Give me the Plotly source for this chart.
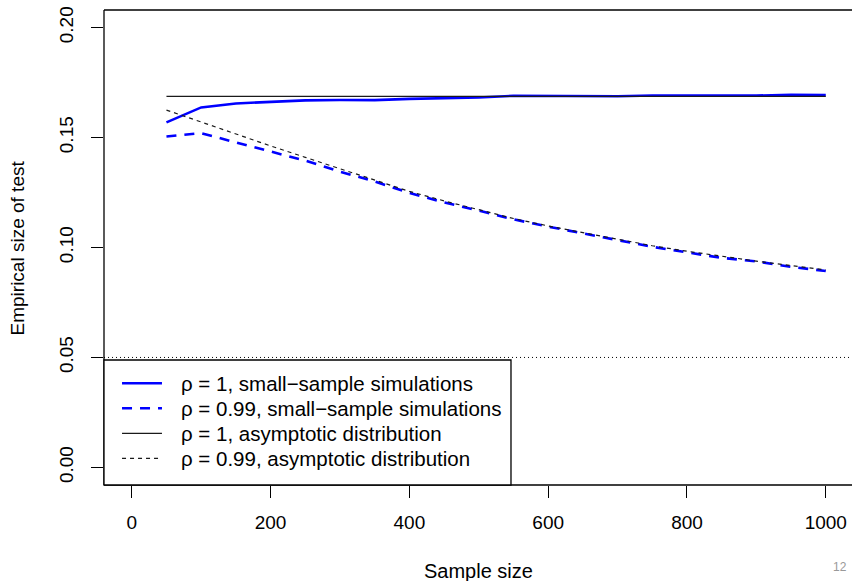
import plotly.graph_objects as go

sample_size = [50, 100, 150, 200, 250, 300, 350, 400, 450, 500,
               550, 600, 650, 700, 750, 800, 850, 900, 950, 1000]
sim_rho1 = [0.1569, 0.1637, 0.1655, 0.1663, 0.1669, 0.1671, 0.1670, 0.1676, 0.1680, 0.1682,
            0.1690, 0.1689, 0.1689, 0.1688, 0.1691, 0.1690, 0.1689, 0.1691, 0.1694, 0.1693]
sim_rho099 = [0.1505, 0.1520, 0.1478, 0.1438, 0.1395, 0.1345, 0.1300, 0.1248, 0.1205, 0.1168,
              0.1128, 0.1095, 0.1065, 0.1033, 0.1003, 0.0978, 0.0953, 0.0937, 0.0912, 0.0893]
asy_rho1 = [0.1687] * 20
asy_rho099 = [0.1625, 0.1570, 0.1515, 0.1462, 0.1410, 0.1358, 0.1305, 0.1255, 0.1212, 0.1172,
              0.1132, 0.1098, 0.1067, 0.1037, 0.1008, 0.0983, 0.0960, 0.0938, 0.0918, 0.0898]
nominal_level = 0.05

x_ticks = [0, 200, 400, 600, 800, 1000]
y_ticks = [0.00, 0.05, 0.10, 0.15, 0.20]
y_tick_labels = ["0.00", "0.05", "0.10", "0.15", "0.20"]

legend_labels = ["ρ = 1, small−sample simulations",
                 "ρ = 0.99, small−sample simulations",
                 "ρ = 1, asymptotic distribution",
                 "ρ = 0.99, asymptotic distribution"]

FONT = "Liberation Sans, Arial, Helvetica, sans-serif"
BLUE = "#0000ff"
DARK = "#1a1a1a"
styles = [
    dict(color=BLUE, width=2.6),
    dict(color=BLUE, width=2.6, dash="10px,8px"),
    dict(color=DARK, width=1.2),
    dict(color=DARK, width=1.2, dash="4px,4px"),
]
series = [sim_rho1, sim_rho099, asy_rho1, asy_rho099]

fig = go.Figure()
for lab, ys, st in zip(legend_labels, series, styles):
    fig.add_trace(go.Scatter(x=sample_size, y=ys, mode="lines", name=lab,
                             line=st, showlegend=False, hoverinfo="skip"))

shapes = [
    dict(type="line", xref="paper", yref="y", x0=0, x1=1, y0=nominal_level, y1=nominal_level,
         line=dict(color="black", width=1, dash="1px,3px")),
    dict(type="line", xref="paper", yref="paper", x0=0, x1=1, y0=1, y1=1,
         line=dict(color="black", width=1.3)),
    dict(type="line", xref="paper", yref="paper", x0=0, x1=1, y0=0, y1=0,
         line=dict(color="black", width=1.3)),
    dict(type="line", xref="paper", yref="paper", x0=0, x1=0, y0=0, y1=1,
         line=dict(color="black", width=1.3)),
    # legend box
    dict(type="rect", xref="paper", yref="paper", x0=0, x1=0.5441, y0=0, y1=0.2632,
         line=dict(color="black", width=1.3), fillcolor="white", layer="above"),
]

annotations = [
    dict(text="Sample size", xref="paper", yref="paper", x=0.5013, y=-0.181,
         showarrow=False, font=dict(size=20, color="black", family=FONT),
         xanchor="center", yanchor="middle"),
    dict(text="Empirical size of test", xref="paper", yref="paper", x=-0.115, y=0.5,
         showarrow=False, textangle=-90, font=dict(size=19, color="black", family=FONT),
         xanchor="center", yanchor="middle"),
    dict(text="12", xref="paper", yref="paper", x=0.984, y=-0.1726,
         showarrow=False, font=dict(size=12, color="#999999", family=FONT),
         xanchor="center", yanchor="middle"),
]

row_y = [0.2141, 0.1615, 0.1088, 0.0562]
for lab, st, ry in zip(legend_labels, styles, row_y):
    shapes.append(dict(type="line", xref="paper", yref="paper", x0=0.0241, x1=0.0775,
                       y0=ry, y1=ry, line=st, layer="above"))
    annotations.append(dict(text=lab, xref="paper", yref="paper", x=0.1003, y=ry,
                            showarrow=False, xanchor="left", yanchor="middle",
                            font=dict(size=20.5, color="black", family=FONT)))

fig.update_layout(
    width=852, height=581,
    margin=dict(l=104, r=0, t=10, b=96),
    paper_bgcolor="white", plot_bgcolor="white",
    font=dict(family=FONT, size=19, color="black"),
    shapes=shapes, annotations=annotations,
    showlegend=False,
    xaxis=dict(range=[-40, 1037.8], tickvals=x_ticks, ticks="outside", ticklen=12,
               tickcolor="black", tickwidth=1, showgrid=False, zeroline=False,
               showline=False, tickfont=dict(size=19), ticklabelstandoff=8,
               ticklabeloverflow="allow"),
    yaxis=dict(range=[-0.008, 0.208], tickvals=y_ticks, ticktext=y_tick_labels,
               ticks="outside", ticklen=12, tickcolor="black", tickwidth=1,
               tickangle=-90, showgrid=False, zeroline=False, showline=False,
               tickfont=dict(size=19), ticklabelstandoff=10,
               ticklabeloverflow="allow"),
)

fig.write_html(
    "out.html",
    config={"displayModeBar": False},
    post_script="document.body.style.margin='0';document.body.style.overflow='hidden';",
)
